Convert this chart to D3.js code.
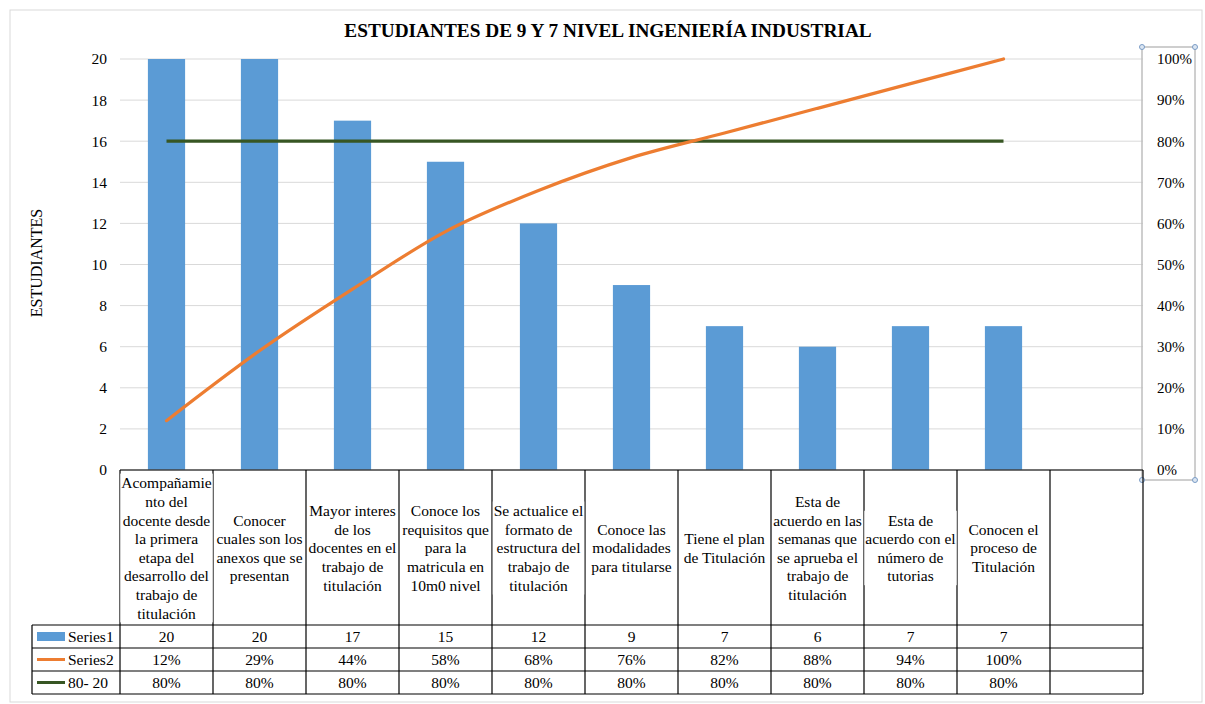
<!DOCTYPE html>
<html>
<head>
<meta charset="utf-8">
<script src="https://cdn.jsdelivr.net/npm/d3@7"></script>
<style>
  body { margin: 0; background: #fff; }
  svg, svg text, svg tspan { font-family: "Liberation Serif", "Times New Roman", Times, serif !important; fill: #000; }
</style>
</head>
<body>
<svg id="chart"></svg>
<script>
// data
const categories = [
  "Acompañamie\nnto del\ndocente desde\nla primera\netapa del\ndesarrollo del\ntrabajo de\ntitulación",
  "Conocer\ncuales son los\nanexos que se\npresentan",
  "Mayor interes\nde los\ndocentes en el\ntrabajo de\ntitulación",
  "Conoce los\nrequisitos que\npara la\nmatricula en\n10m0 nivel",
  "Se actualice el\nformato de\nestructura del\ntrabajo de\ntitulación",
  "Conoce las\nmodalidades\npara titularse",
  "Tiene el plan\nde Titulación",
  "Esta de\nacuerdo en las\nsemanas que\nse aprueba el\ntrabajo de\ntitulación",
  "Esta de\nacuerdo con el\nnúmero de\ntutorias",
  "Conocen el\nproceso de\nTitulación",
  ""
];
const series1 = [20, 20, 17, 15, 12, 9, 7, 6, 7, 7];
const series2 = [12, 29, 44, 58, 68, 76, 82, 88, 94, 100];   // %
const line8020 = [80, 80, 80, 80, 80, 80, 80, 80, 80, 80];   // %
const seriesNames = ["Series1", "Series2", "80- 20"];
const leftTicks = [0, 2, 4, 6, 8, 10, 12, 14, 16, 18, 20];
const rightTicks = [0, 10, 20, 30, 40, 50, 60, 70, 80, 90, 100];

const W = 1205, H = 704;
const BLUE = "#5B9BD5", ORANGE = "#ED7D31", GREEN = "#375623";
const FONT = '"Liberation Serif", "Times New Roman", serif';
const plotL = 120, plotR = 1143, plotT = 59, plotB = 470;
const tableL = 32, rowTop = 625, rowH = 23;

const svg = d3.select("#chart").attr("width", W).attr("height", H)
  .attr("font-family", FONT);

// outer chart border
svg.append("rect").attr("x", 10).attr("y", 10).attr("width", 1192).attr("height", 692)
  .attr("fill", "none").attr("stroke", "#d9d9d9");

const x = d3.scaleBand().domain(d3.range(categories.length)).range([plotL, plotR]).padding(0);
const y = d3.scaleLinear().domain([0, 20]).range([plotB, plotT]);
const y2 = d3.scaleLinear().domain([0, 100]).range([plotB, plotT]);
const cx = i => x(i) + x.bandwidth() / 2;

// title
svg.append("text").attr("x", 608).attr("y", 37).attr("text-anchor", "middle")
  .style("font-size", "19.3px").style("font-weight", "bold").style("font-family", FONT)
  .text("ESTUDIANTES DE 9 Y 7 NIVEL INGENIERÍA INDUSTRIAL");

// gridlines
svg.append("g").selectAll("line").data(leftTicks.filter(d => d > 0)).join("line")
  .attr("x1", plotL).attr("x2", plotR).attr("y1", d => y(d)).attr("y2", d => y(d))
  .attr("stroke", "#d9d9d9");

// left axis
const yAxis = svg.append("g").attr("transform", `translate(${plotL},0)`)
  .call(d3.axisLeft(y).tickValues(leftTicks).tickSize(0).tickPadding(13));
yAxis.attr("font-family", FONT);
yAxis.select(".domain").remove();
yAxis.selectAll("text").style("font-size", "15.5px").style("font-family", FONT);

svg.append("text").attr("transform", "translate(42,263) rotate(-90)")
  .attr("text-anchor", "middle").style("font-size", "16px").style("font-family", FONT)
  .text("ESTUDIANTES");

// right axis box (selected)
svg.append("rect").attr("x", 1142).attr("y", 47).attr("width", 53).attr("height", 433)
  .attr("fill", "none").attr("stroke", "#bfbfbf").attr("stroke-width", 1.5);
const yAxis2 = svg.append("g").attr("transform", `translate(1157,0)`)
  .call(d3.axisRight(y2).tickValues(rightTicks).tickSize(0).tickPadding(0).tickFormat(d => d + "%"));
yAxis2.attr("font-family", FONT);
yAxis2.select(".domain").remove();
yAxis2.selectAll("text").style("font-size", "15px").style("font-family", FONT);
svg.append("g").selectAll("circle")
  .data([[1142, 47], [1195, 47], [1142, 480], [1195, 480]]).join("circle")
  .attr("cx", d => d[0]).attr("cy", d => d[1]).attr("r", 2.5)
  .attr("fill", "#dbe6f2").attr("stroke", "#7a9cc6");

// bars
const barW = x.bandwidth() * 0.4;
svg.append("g").selectAll("rect").data(series1).join("rect")
  .attr("x", (d, i) => cx(i) - barW / 2).attr("width", barW)
  .attr("y", d => y(d)).attr("height", d => y(0) - y(d))
  .attr("fill", BLUE);

// 80-20 line
svg.append("path").datum(line8020)
  .attr("d", d3.line().x((d, i) => cx(i)).y(d => y2(d)))
  .attr("fill", "none").attr("stroke", GREEN).attr("stroke-width", 3.2);

// cumulative line
svg.append("path").datum(series2)
  .attr("d", d3.line().x((d, i) => cx(i)).y(d => y2(d)).curve(d3.curveCardinal.tension(0)))
  .attr("fill", "none").attr("stroke", ORANGE).attr("stroke-width", 3.2).attr("stroke-linecap", "round");

// category axis line
svg.append("line").attr("x1", plotL).attr("x2", plotR).attr("y1", plotB).attr("y2", plotB)
  .attr("stroke", "#404040").attr("stroke-width", 1.3);

// table grid
const nRows = seriesNames.length;
const colEdges = d3.range(categories.length + 1).map(i => i < categories.length ? x(i) : plotR);
const grid = svg.append("g").attr("stroke", "#000").attr("stroke-width", 1.2);
colEdges.forEach(e => {
  grid.append("line").attr("x1", e).attr("x2", e).attr("y1", plotB).attr("y2", rowTop + nRows * rowH);
});
d3.range(nRows + 1).forEach(r => {
  grid.append("line").attr("x1", tableL).attr("x2", plotR)
    .attr("y1", rowTop + r * rowH).attr("y2", rowTop + r * rowH);
});
grid.append("line").attr("x1", tableL).attr("x2", tableL).attr("y1", rowTop).attr("y2", rowTop + nRows * rowH);

// category labels (white boxes break the dividers like in Excel)
const lh = 18.6, midY = (plotB + rowTop) / 2 + 0.5;
categories.forEach((c, i) => {
  if (!c) return;
  const lines = c.split("\n");
  const g = svg.append("g");
  const bg = g.append("rect").attr("fill", "#fff");
  const t = g.append("text").attr("text-anchor", "middle")
    .style("font-size", "15.5px").style("font-family", FONT);
  const top = midY - lines.length * lh / 2;
  lines.forEach((l, k) => {
    t.append("tspan").attr("x", cx(i)).attr("y", top + lh * (k + 0.5)).attr("dy", "0.35em").text(l);
  });
  const wMax = d3.max(t.selectAll("tspan").nodes(), n => n.getComputedTextLength());
  bg.attr("x", cx(i) - wMax / 2 - 1).attr("width", wMax + 2)
    .attr("y", top).attr("height", lines.length * lh);
});

// table values
const rows = [
  series1.map(String),
  series2.map(d => d + "%"),
  line8020.map(d => d + "%")
];
rows.forEach((vals, r) => {
  svg.append("g").selectAll("text").data(vals).join("text")
    .attr("x", (d, i) => cx(i)).attr("y", rowTop + rowH * (r + 0.5)).attr("dy", "0.35em")
    .attr("text-anchor", "middle").style("font-size", "15.5px").style("font-family", FONT)
    .text(d => d);
});

// legend keys in the table
const keyY = d => rowTop + rowH * (d + 0.5);
svg.append("rect").attr("x", 37).attr("y", keyY(0) - 4.5).attr("width", 28).attr("height", 9).attr("fill", BLUE);
svg.append("line").attr("x1", 37).attr("x2", 65).attr("y1", keyY(1)).attr("y2", keyY(1))
  .attr("stroke", ORANGE).attr("stroke-width", 3);
svg.append("line").attr("x1", 37).attr("x2", 65).attr("y1", keyY(2)).attr("y2", keyY(2))
  .attr("stroke", GREEN).attr("stroke-width", 3);
svg.append("g").selectAll("text").data(seriesNames).join("text")
  .attr("x", 68).attr("y", (d, i) => keyY(i)).attr("dy", "0.35em")
  .style("font-size", "15.5px").style("font-family", FONT).text(d => d);
</script>
</body>
</html>
